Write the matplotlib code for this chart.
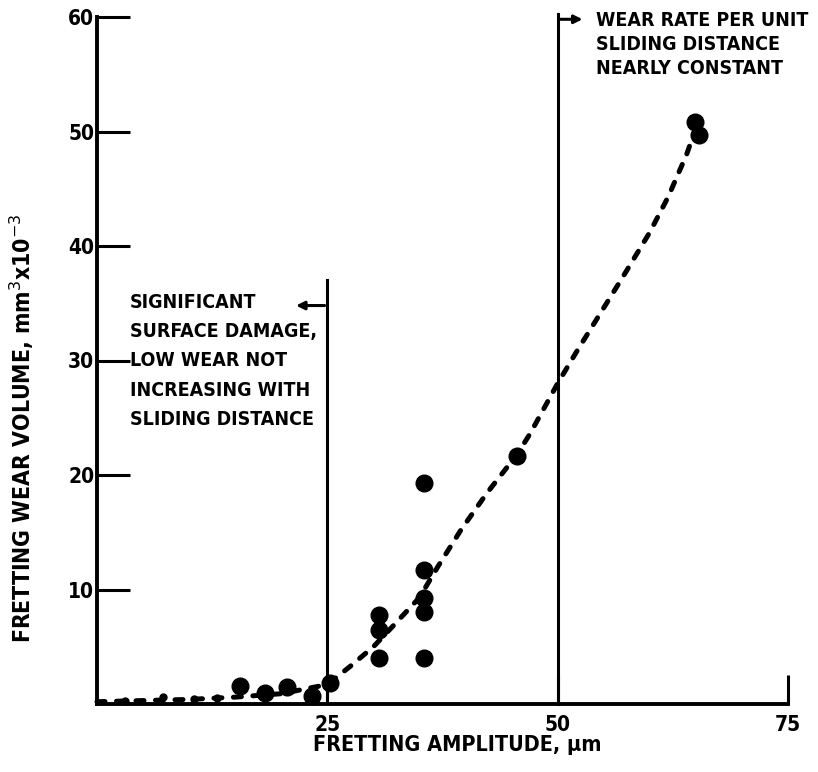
import matplotlib.pyplot as plt

# measured points (fretting amplitude um, wear volume mm^3 x10^-3)
amp_pts = [15.5, 18.2, 20.6, 23.3, 25.3, 30.6, 30.6, 30.6, 35.5, 35.5, 35.5, 35.5, 35.5, 45.6, 64.9, 65.3]
wear_pts = [1.6, 1.0, 1.5, 0.7, 1.8, 7.8, 6.5, 4.0, 19.3, 11.7, 9.3, 8.0, 4.0, 21.7, 50.8, 49.7]

# small points along the baseline
amp_small = [3.0, 7.2, 10.5, 13.0]
wear_small = [0.3, 0.6, 0.4, 0.5]

# dashed trend curve
amp_curve = [0, 5, 10, 15, 20, 25, 27.5, 30, 32, 35, 37, 39.5, 42.3, 45.6, 47, 50, 52, 54, 57, 60, 62, 64, 65]
wear_curve = [0.2, 0.3, 0.4, 0.6, 0.9, 1.7, 3.3, 5.0, 6.7, 9.3, 12.0, 15.2, 18.4, 21.8, 23.6, 28.0, 30.7, 33.3, 37.2, 41.2, 44.3, 48.0, 50.3]

yticks = [10, 20, 30, 40, 50, 60]
xticks = [25, 50, 75]

font = dict(family='DejaVu Sans', fontweight='bold', fontstretch='condensed')

fig = plt.figure(figsize=(8.18, 7.72), dpi=100)
ax = fig.add_axes([97/818, 1-704/772, (788-97)/818, (704-17)/772])
ax.set_xlim(0, 75)
ax.set_ylim(0, 60)

ax.plot(amp_curve, wear_curve, color='black', lw=3.6, dashes=(1.6, 2.3),
        dash_capstyle='round', clip_on=False)
ax.plot(amp_pts, wear_pts, 'o', color='black', ms=12, clip_on=False)
ax.plot(amp_small, wear_small, 'o', color='black', ms=5, clip_on=False)

# region boundaries
ax.plot([25, 25], [0, 37], color='black', lw=2.2)
ax.plot([50, 50], [0, 60.3], color='black', lw=2.2, clip_on=False)
ax.annotate('', xy=(21.3, 34.8), xytext=(25, 34.8),
            arrowprops=dict(arrowstyle='-|>', color='black', lw=2.2, mutation_scale=12))
ax.annotate('', xy=(53.0, 59.8), xytext=(50, 59.8), annotation_clip=False,
            arrowprops=dict(arrowstyle='-|>', color='black', lw=2.2, mutation_scale=12))

ax.text(3.6, 35.9, 'SIGNIFICANT\nSURFACE DAMAGE,\nLOW WEAR NOT\nINCREASING WITH\nSLIDING DISTANCE',
        va='top', ha='left', fontsize=14, linespacing=1.68, **font)
ax.text(54.2, 60.5, 'WEAR RATE PER UNIT\nSLIDING DISTANCE\nNEARLY CONSTANT',
        va='top', ha='left', fontsize=14, linespacing=1.32, clip_on=False, **font)

for s in ['top', 'right']:
    ax.spines[s].set_visible(False)
for s in ['left', 'bottom']:
    ax.spines[s].set_linewidth(2.8)

ax.set_yticks(yticks)
ax.set_xticks(xticks)
ax.tick_params(axis='y', direction='in', length=24, width=2.2, pad=2)
ax.tick_params(axis='x', direction='in', length=21, width=2.2, pad=8)
for lab in ax.get_xticklabels() + ax.get_yticklabels():
    lab.set_fontsize(15)
    lab.set_fontweight('bold')
    lab.set_fontstretch('condensed')

fig.text(22/818, 1-428/772, 'FRETTING WEAR VOLUME, mm$^3$x10$^{-3}$', rotation=90,
         ha='center', va='center', fontsize=16.5, **font)
fig.text(457/818, 1-745/772, 'FRETTING AMPLITUDE, \u03bcm', ha='center', va='center',
         fontsize=15.5, **font)

fig.savefig('out.png', dpi=100)
